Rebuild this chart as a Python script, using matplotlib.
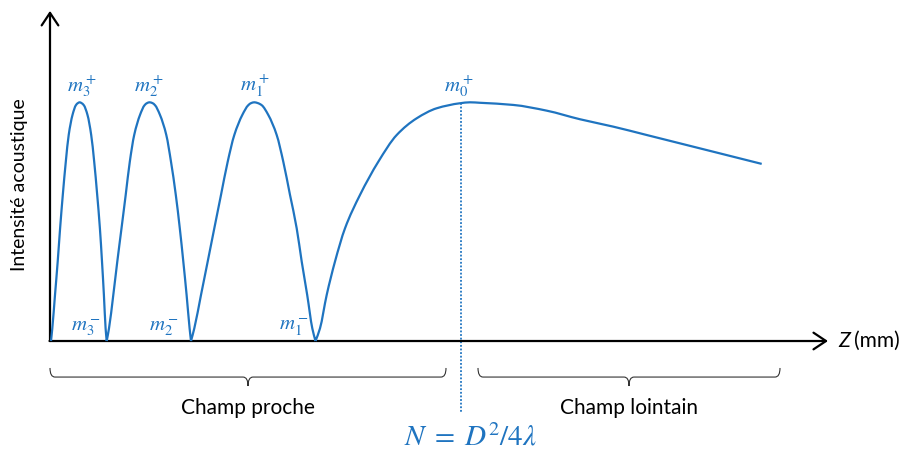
import matplotlib
matplotlib.use("Agg")
import matplotlib.pyplot as plt
from matplotlib.path import Path
from matplotlib.patches import PathPatch

plt.rcParams['font.family'] = ['Lato', 'DejaVu Sans']
plt.rcParams['mathtext.fontset'] = 'stix'

blue = '#1f74c0'

# curve: Z (mm, arbitrary) and intensity (normalised to the peak)
z = [0.10, 0.23, 0.50, 0.77, 1.01, 1.28, 1.58, 1.87, 2.25, 2.59, 2.80, 2.97, 3.14, 3.38, 3.75,
     4.12, 4.42, 4.72, 4.99, 5.20, 5.39, 5.56, 5.67,
     5.90, 6.33, 6.73, 7.15, 7.57, 7.98, 8.42, 9.00, 9.46, 9.72, 9.95, 10.23, 10.50, 11.00,
     11.63, 12.10, 12.58, 12.98, 13.33, 13.66, 13.96, 14.10,
     14.43, 15.10, 15.77, 16.43, 17.10, 17.77, 18.43, 19.23, 19.83, 20.13, 20.43, 20.76, 21.17,
     21.83, 22.67, 23.33, 24.00, 24.67, 25.17, 25.72, 26.23, 26.55,
     27.00, 27.67, 28.50, 29.50, 31.00, 32.83, 34.67, 36.67, 38.67, 41.00, 42.00, 43.00, 46.33,
     49.67, 53.00, 56.33, 59.67, 63.00, 66.33, 71.17]
intensity = [0, 0.053, 0.193, 0.333, 0.472, 0.612, 0.751, 0.863, 0.947, 0.988, 0.997, 1.0, 0.997,
             0.988, 0.947, 0.863, 0.751, 0.612, 0.472, 0.333, 0.193, 0.053, 0,
             0.053, 0.193, 0.333, 0.472, 0.612, 0.751, 0.863, 0.947, 0.988, 0.997, 1.0, 0.997,
             0.988, 0.947, 0.863, 0.751, 0.612, 0.472, 0.333, 0.193, 0.053, 0,
             0.053, 0.193, 0.333, 0.472, 0.612, 0.751, 0.863, 0.947, 0.988, 0.997, 1.0, 0.997,
             0.988, 0.947, 0.863, 0.751, 0.612, 0.472, 0.333, 0.193, 0.053, 0,
             0.053, 0.193, 0.333, 0.472, 0.612, 0.751, 0.863, 0.933, 0.975, 0.996, 1.0, 0.998,
             0.989, 0.965, 0.929, 0.898, 0.863, 0.828, 0.793, 0.742]

# maxima / minima labels
max_labels = [r'$m_3^+$', r'$m_2^+$', r'$m_1^+$', r'$m_0^+$']
max_z = [3.2, 9.9, 20.5, 40.9]
min_labels = [r'$m_3^-$', r'$m_2^-$', r'$m_1^-$']
min_z = [3.6, 11.4, 24.4]

N_z = 41.1          # near field length
z_axis_end = 77.8
braces = [(0.0, 39.6, 'Champ proche'), (42.8, 73.0, 'Champ lointain')]


def smooth_piece(xs, ys):
    # monotone cubic (pchip) through the read points, handed to the renderer as bezier segments
    n = len(xs)
    h = [xs[i + 1] - xs[i] for i in range(n - 1)]
    d = [(ys[i + 1] - ys[i]) / h[i] for i in range(n - 1)]
    m = [0.0] * n
    m[0], m[-1] = d[0], d[-1]
    for i in range(1, n - 1):
        if d[i - 1] * d[i] <= 0:
            m[i] = 0.0
        else:
            w1 = 2 * h[i] + h[i - 1]
            w2 = h[i] + 2 * h[i - 1]
            m[i] = (w1 + w2) / (w1 / d[i - 1] + w2 / d[i])
    verts = [(xs[0], ys[0])]
    codes = [Path.MOVETO]
    for i in range(n - 1):
        verts += [(xs[i] + h[i] / 3, ys[i] + m[i] * h[i] / 3),
                  (xs[i + 1] - h[i] / 3, ys[i + 1] - m[i + 1] * h[i] / 3),
                  (xs[i + 1], ys[i + 1])]
        codes += [Path.CURVE4] * 3
    return verts, codes


fig = plt.figure(figsize=(9.06, 4.5), dpi=100)
ax = fig.add_axes([0, 0, 1, 1])
ax.set_xlim(-5.0, 85.6)
ax.set_ylim(-0.4566, 1.4286)
ax.axis('off')

# axes with open arrow heads
arrow = dict(arrowstyle='->,head_length=0.45,head_width=0.3', lw=1.6, color='black',
             mutation_scale=20, shrinkA=0, shrinkB=0)
ax.annotate('', xy=(0, 1.383), xytext=(0, 0), arrowprops=arrow)
ax.annotate('', xy=(z_axis_end, 0), xytext=(-0.05, 0), arrowprops=arrow)

# split the curve at the zeros so the minima stay sharp
cuts = [i for i, v in enumerate(intensity) if v == 0] + [len(z) - 1]
all_verts, all_codes = [], []
for a, b in zip(cuts[:-1], cuts[1:]):
    v, c = smooth_piece(z[a:b + 1], intensity[a:b + 1])
    all_verts += v
    all_codes += c
ax.add_patch(PathPatch(Path(all_verts, all_codes), fill=False, lw=1.6, color=blue,
                       joinstyle='round', capstyle='butt', zorder=3))

ax.plot([N_z, N_z], [0.996, -0.297], color=blue, lw=1.3, linestyle=(0, (1, 1)))

for lab, zz in zip(max_labels, max_z):
    ax.text(zz, 1.012, lab, color=blue, fontsize=15, ha='center', va='bottom')
for lab, zz in zip(min_labels, min_z):
    ax.text(zz, 0.012, lab, color=blue, fontsize=15, ha='center', va='bottom')

ax.text(-3.0, 0.654, 'Intensité acoustique', rotation=90, ha='center', va='center', fontsize=14)
ax.text(78.8, 0, 'Z', style='italic', ha='left', va='center', fontsize=15.5)
ax.text(80.4, 0, '(mm)', ha='left', va='center', fontsize=15)

# braces below the axis
top, line, tip = -0.113, -0.151, -0.1885
for z0, z1, lab in braces:
    zm = (z0 + z1) / 2
    r = 0.5
    verts = [(z0, top), (z0, line), (z0 + r, line),
             (zm - r, line), (zm, line), (zm, tip),
             (zm, line), (zm + r, line),
             (z1 - r, line), (z1, line), (z1, top)]
    codes = [Path.MOVETO, Path.CURVE3, Path.CURVE3,
             Path.LINETO, Path.CURVE3, Path.CURVE3,
             Path.CURVE3, Path.CURVE3,
             Path.LINETO, Path.CURVE3, Path.CURVE3]
    ax.add_patch(PathPatch(Path(verts, codes), fill=False, lw=0.8, color='#333333'))
    ax.text(zm, -0.281, lab, ha='center', va='center', fontsize=15)

ax.text(42.0, -0.402, r'$N\;=\;D^2/4\lambda$', color=blue, fontsize=21, ha='center', va='center')

fig.savefig('out.png', dpi=100)
